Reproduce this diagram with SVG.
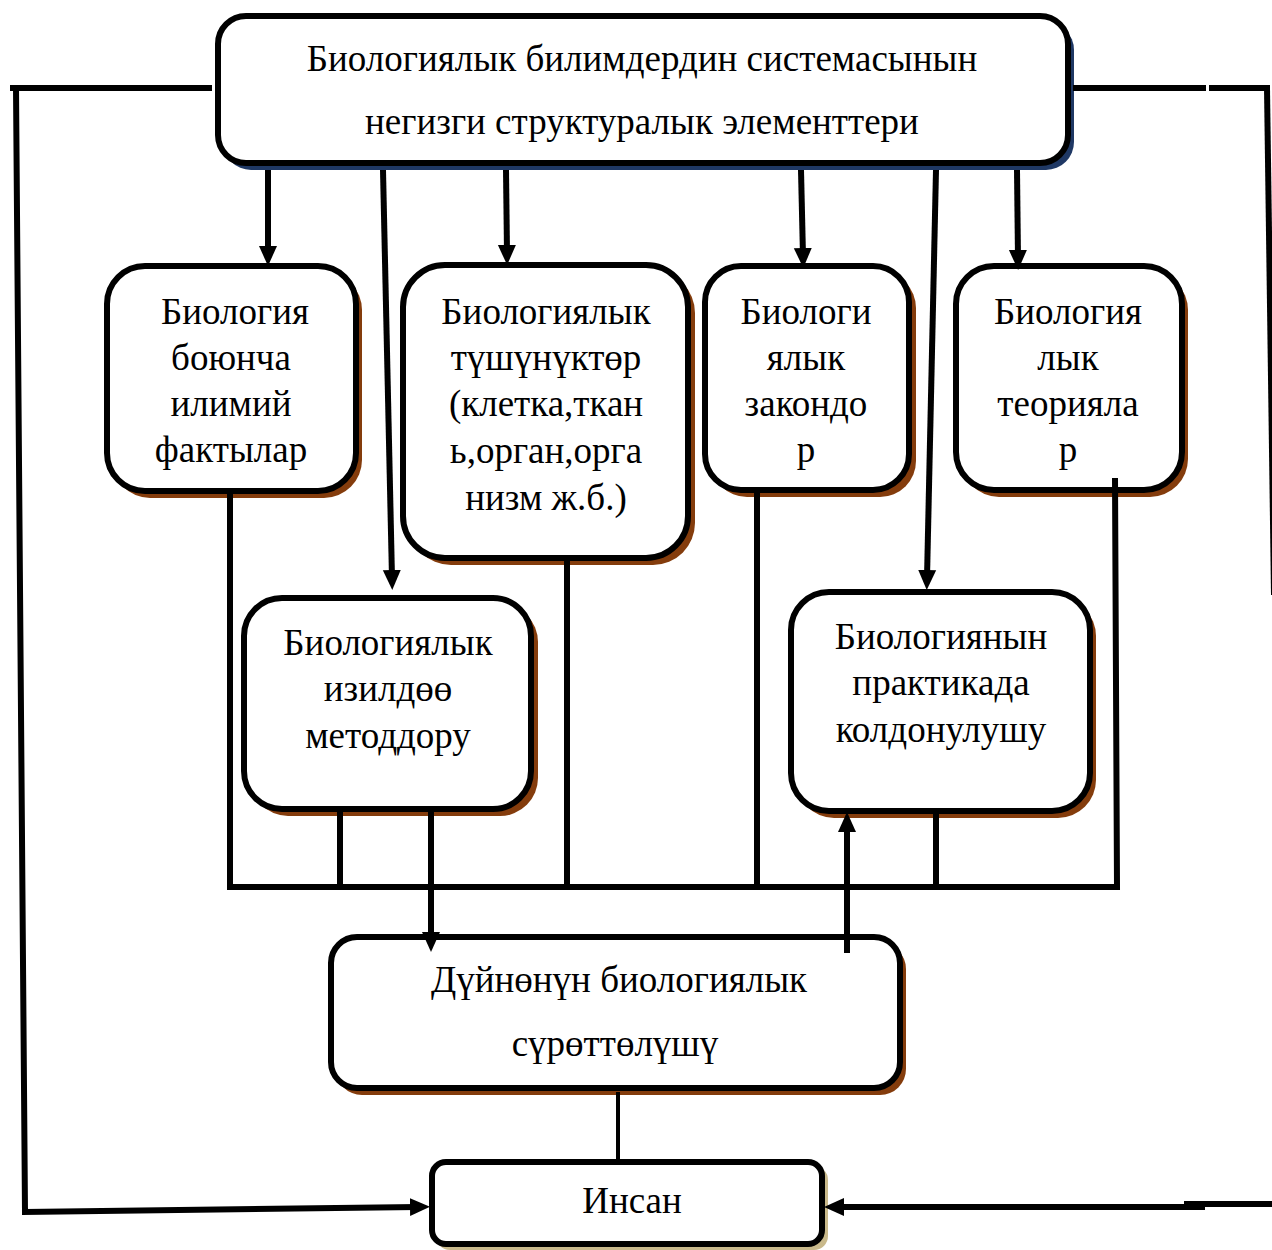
<svg xmlns="http://www.w3.org/2000/svg" width="1272" height="1250" viewBox="0 0 1272 1250">
  <defs>
    <style>
      .box { fill: #ffffff; stroke: #000000; stroke-width: 6; }
      .sh-brown { fill: #843c0c; }
      .sh-navy { fill: #1f3864; }
      .sh-tan { fill: #c9b98b; }
      .lbl { font-family: "Liberation Serif", "Times New Roman", serif; font-size: 37px; fill: #000000; text-anchor: middle; }
      .ln { fill: none; stroke: #000000; stroke-width: 6; stroke-linecap: butt; stroke-linejoin: miter; }
      .ln-thin { fill: none; stroke: #000000; stroke-width: 4; }
    </style>
    <!-- line ends 12px behind the tip so the butt end stays inside the head -->
    <marker id="arrow" markerUnits="userSpaceOnUse" markerWidth="22" markerHeight="22" viewBox="0 0 22 22" refX="8" refY="11" orient="auto">
      <path d="M0,2 L20,11 L0,20 Z" fill="#000000"/>
    </marker>
  </defs>

  <rect width="1272" height="1250" fill="#ffffff"/>

  <!-- top box -->
  <g id="node-structure">
    <rect class="sh-navy" x="223" y="22" width="851" height="148" rx="28"/>
    <rect class="box" x="218" y="16" width="850" height="147" rx="28"/>
    <text class="lbl" x="642" y="71">Биологиялык билимдердин системасынын</text>
    <text class="lbl" x="642" y="134">негизги структуралык элементтери</text>
  </g>

  <g id="node-facts">
    <rect class="sh-brown" x="112" y="272" width="250" height="226" rx="38"/>
    <rect class="box" x="107" y="266" width="249" height="225" rx="38"/>
    <text class="lbl" x="235" y="324">Биология</text>
    <text class="lbl" x="231" y="370">боюнча</text>
    <text class="lbl" x="231" y="416">илимий</text>
    <text class="lbl" x="231" y="462">фактылар</text>
  </g>

  <g id="node-concepts">
    <rect class="sh-brown" x="409" y="271" width="286" height="294" rx="42"/>
    <rect class="box" x="403" y="265" width="285" height="293" rx="42"/>
    <text class="lbl" x="546" y="324">Биологиялык</text>
    <text class="lbl" x="546" y="370">түшүнүктөр</text>
    <text class="lbl" x="546" y="416">(клетка,ткан</text>
    <text class="lbl" x="546" y="463">ь,орган,орга</text>
    <text class="lbl" x="546" y="510">низм ж.б.)</text>
  </g>

  <g id="node-laws">
    <rect class="sh-brown" x="711" y="272" width="205" height="225" rx="36"/>
    <rect class="box" x="705" y="266" width="204" height="224" rx="36"/>
    <text class="lbl" x="806" y="324">Биологи</text>
    <text class="lbl" x="806" y="370">ялык</text>
    <text class="lbl" x="806" y="416">закондо</text>
    <text class="lbl" x="806" y="462">р</text>
  </g>

  <g id="node-theories">
    <rect class="sh-brown" x="961" y="272" width="227" height="225" rx="38"/>
    <rect class="box" x="956" y="266" width="226" height="224" rx="38"/>
    <text class="lbl" x="1068" y="324">Биология</text>
    <text class="lbl" x="1068" y="370">лык</text>
    <text class="lbl" x="1068" y="416">теорияла</text>
    <text class="lbl" x="1068" y="462">р</text>
  </g>

  <g id="node-methods">
    <rect class="sh-brown" x="250" y="604" width="288" height="212" rx="38"/>
    <rect class="box" x="244" y="598" width="287" height="211" rx="38"/>
    <text class="lbl" x="388" y="655">Биологиялык</text>
    <text class="lbl" x="388" y="701">изилдөө</text>
    <text class="lbl" x="388" y="748">методдору</text>
  </g>

  <g id="node-practice">
    <rect class="sh-brown" x="796" y="598" width="300" height="220" rx="38"/>
    <rect class="box" x="791" y="592" width="299" height="219" rx="38"/>
    <text class="lbl" x="941" y="649">Биологиянын</text>
    <text class="lbl" x="941" y="695">практикада</text>
    <text class="lbl" x="941" y="742">колдонулушу</text>
  </g>

  <g id="node-worldview">
    <rect class="sh-brown" x="336" y="943" width="570" height="152" rx="26"/>
    <rect class="box" x="331" y="937" width="569" height="151" rx="26"/>
    <text class="lbl" x="619" y="992">Дүйнөнүн биологиялык</text>
    <text class="lbl" x="615" y="1056">сүрөттөлүшү</text>
  </g>

  <g id="node-person">
    <rect class="sh-tan" x="436" y="1166" width="392" height="84" rx="14"/>
    <rect class="box" x="432" y="1162" width="390" height="82" rx="14"/>
    <text class="lbl" x="632" y="1213">Инсан</text>
  </g>

  <!-- connectors, drawn over the boxes -->
  <g id="connectors">
    <!-- side feedback loops into "Инсан" -->
    <polyline class="ln" points="212,88 10,88"/>
    <polyline class="ln" points="16,88 25,1212 418,1207" marker-end="url(#arrow)"/>
    <polyline class="ln" points="1073,88 1206,88"/>
    <polyline class="ln" points="1209,88 1270,88"/>
    <line class="ln" x1="1267" y1="88" x2="1274" y2="595"/>
    <line class="ln" x1="1184" y1="1204" x2="1272" y2="1204"/>
    <line class="ln" x1="1205" y1="1207" x2="836" y2="1207" marker-end="url(#arrow)"/>

    <!-- arrows from the top box -->
    <line class="ln" x1="268" y1="170" x2="268" y2="254" marker-end="url(#arrow)"/>
    <line class="ln" x1="383" y1="170" x2="392" y2="578" marker-end="url(#arrow)"/>
    <line class="ln" x1="506" y1="170" x2="507" y2="253" marker-end="url(#arrow)"/>
    <line class="ln" x1="801" y1="170" x2="803" y2="256" marker-end="url(#arrow)"/>
    <line class="ln" x1="936" y1="170" x2="927" y2="578" marker-end="url(#arrow)"/>
    <line class="ln" x1="1017" y1="170" x2="1018" y2="258" marker-end="url(#arrow)"/>

    <!-- collecting bus -->
    <polyline class="ln" points="230,492 230,887 1117,887 1115,478"/>
    <line class="ln" x1="340" y1="810" x2="340" y2="887"/>
    <line class="ln" x1="567" y1="558" x2="567" y2="887"/>
    <line class="ln" x1="757" y1="490" x2="757" y2="887"/>
    <line class="ln" x1="936" y1="812" x2="936" y2="887"/>

    <!-- methods -> world picture, world picture -> practice -->
    <line class="ln" x1="431" y1="810" x2="431" y2="940" marker-end="url(#arrow)"/>
    <line class="ln" x1="847" y1="953" x2="847" y2="824" marker-end="url(#arrow)"/>

    <!-- world picture -> person -->
    <line class="ln-thin" x1="618" y1="1092" x2="618" y2="1162"/>
  </g>
</svg>
